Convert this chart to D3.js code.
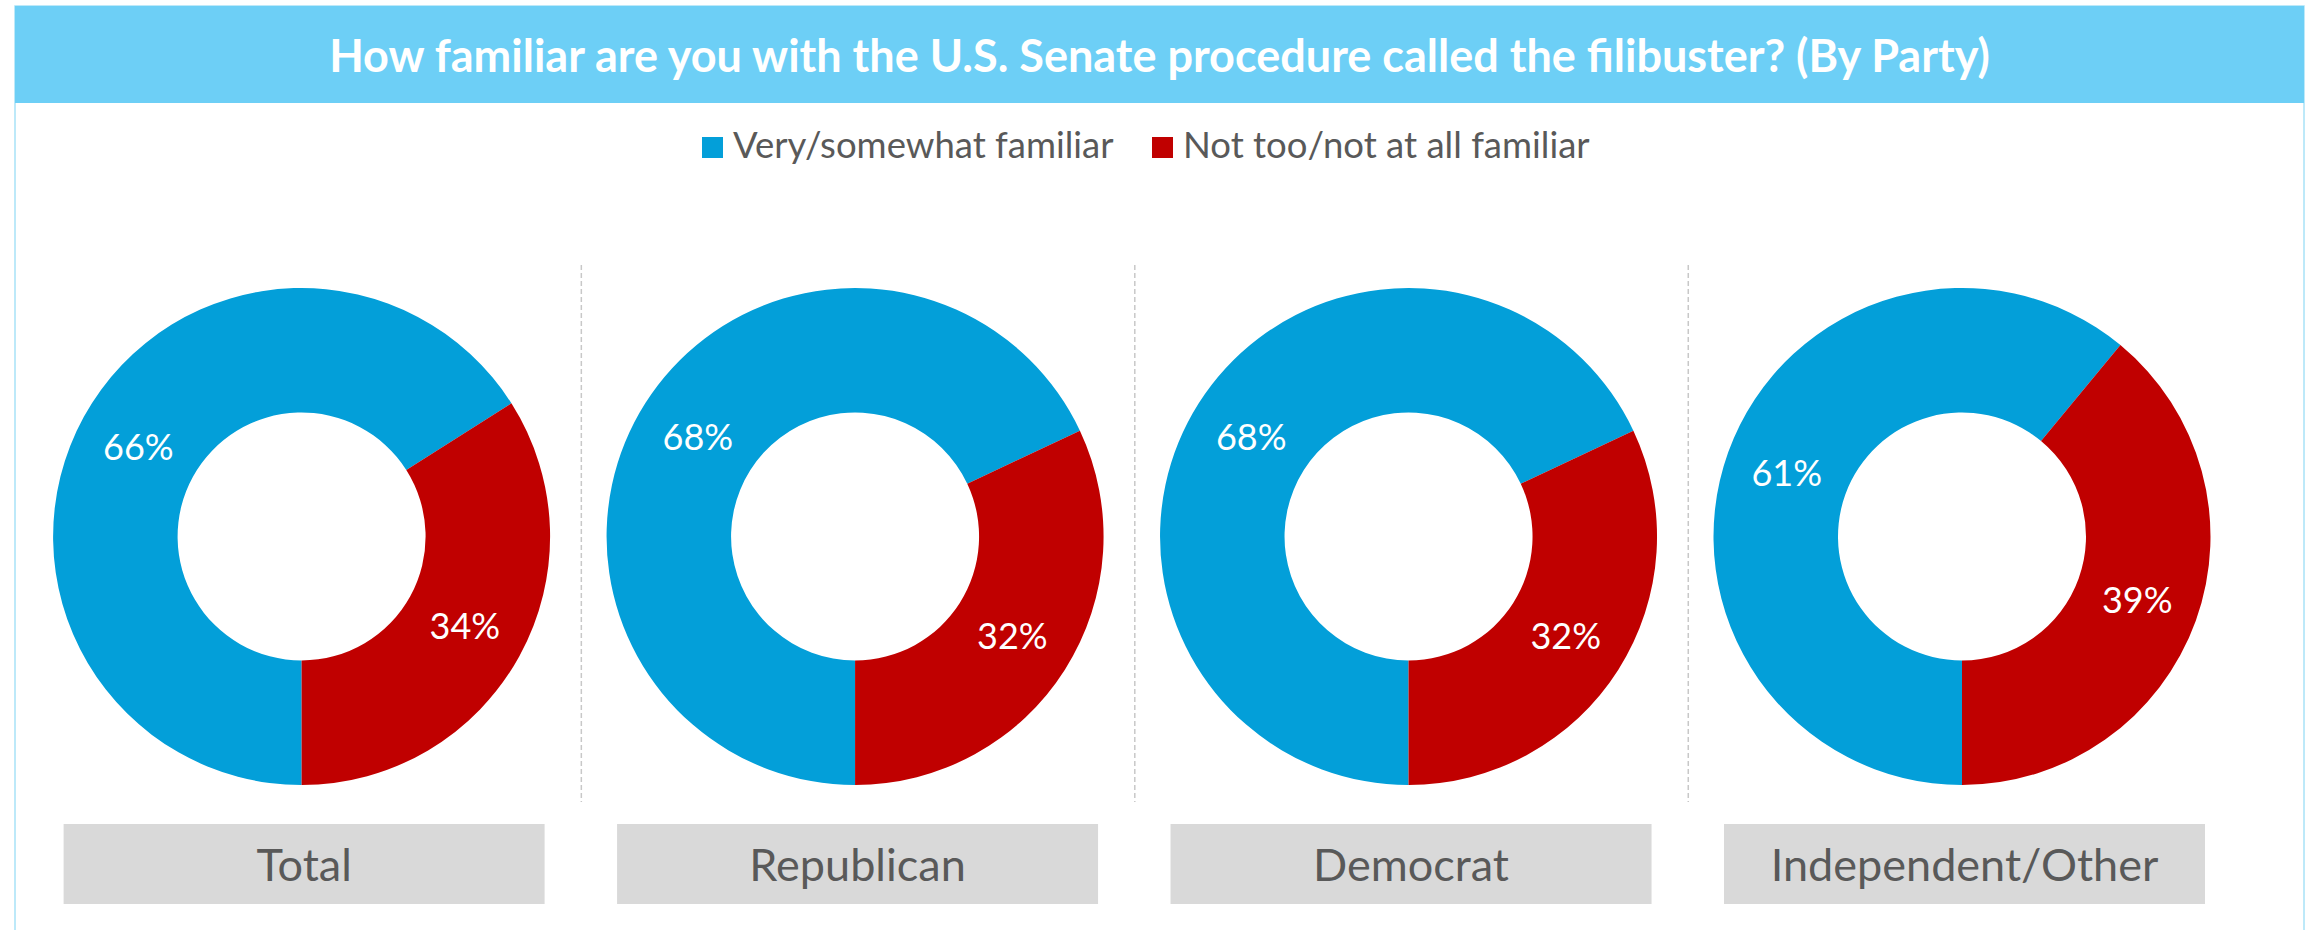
<!DOCTYPE html>
<html>
<head>
<meta charset="utf-8">
<script src="https://d3js.org/d3.v7.min.js"></script>
<style>
  html, body { margin: 0; padding: 0; background: #ffffff; }
  svg { display: block; }
  text { font-family: Lato, "Open Sans", sans-serif; }
</style>
</head>
<body>
<svg id="chart" width="2313" height="930"></svg>
<script>
// ---- data ----
const title = "How familiar are you with the U.S. Senate procedure called the filibuster? (By Party)";
const categories = ["Total", "Republican", "Democrat", "Independent/Other"];
const seriesNames = ["Very/somewhat familiar", "Not too/not at all familiar"];
const veryFamiliar = [66, 68, 68, 61];
const notFamiliar = [34, 32, 32, 39];
const seriesColors = ["#039FD9", "#C00000"];

// ---- layout ----
const W = 2313, H = 930;
const svg = d3.select("#chart");

const frame = { x0: 15, x1: 2304, top: 6, titleBottom: 103 };

// frame
svg.append("rect")
  .attr("x", frame.x0).attr("y", frame.top)
  .attr("width", frame.x1 - frame.x0).attr("height", H + 20)
  .attr("fill", "#ffffff").attr("stroke", "#A8E2F7").attr("stroke-width", 1.5);

// title bar
svg.append("rect")
  .attr("x", frame.x0).attr("y", frame.top)
  .attr("width", frame.x1 - frame.x0).attr("height", frame.titleBottom - frame.top)
  .attr("fill", "#6DCFF6");
svg.append("text")
  .attr("x", (frame.x0 + frame.x1) / 2).attr("y", 72)
  .attr("text-anchor", "middle")
  .attr("fill", "#ffffff").attr("font-weight", "bold").attr("font-size", 45)
  .text(title);

// legend
const legendItems = [
  { name: seriesNames[0], color: seriesColors[0], x: 702 },
  { name: seriesNames[1], color: seriesColors[1], x: 1152 }
];
const lg = svg.append("g");
legendItems.forEach(d => {
  lg.append("rect").attr("x", d.x).attr("y", 137).attr("width", 21).attr("height", 21).attr("fill", d.color);
  lg.append("text").attr("x", d.x + 31).attr("y", 158)
    .attr("fill", "#595959").attr("font-size", 36.5).text(d.name);
});

// columns
const x = d3.scalePoint().domain(categories).range([301.6, 1962]);
const cy = 536.5;
const rOuter = 248.5, rInner = 124;

const pie = d3.pie().sort(null).value(d => d.value)
  .startAngle(Math.PI).endAngle(3 * Math.PI);
const arc = d3.arc().innerRadius(rInner).outerRadius(rOuter);

// separators
const seps = categories.slice(0, -1).map((c, i) => (x(c) + x(categories[i + 1])) / 2 + 3);
svg.selectAll("line.sep").data(seps).join("line")
  .attr("class", "sep")
  .attr("x1", d => d).attr("x2", d => d)
  .attr("y1", 265).attr("y2", 802)
  .attr("stroke", "#C8C8C8").attr("stroke-width", 1.5)
  .attr("stroke-dasharray", "5,3");

categories.forEach((cat, i) => {
  const data = [
    { value: veryFamiliar[i], color: seriesColors[0] },
    { value: notFamiliar[i], color: seriesColors[1] }
  ];
  const g = svg.append("g").attr("transform", `translate(${x(cat)},${cy})`);
  const arcs = pie(data);
  g.selectAll("path").data(arcs).join("path")
    .attr("d", arc).attr("fill", d => d.data.color);
  g.selectAll("text").data(arcs).join("text")
    .attr("transform", d => { const c = arc.centroid(d); return `translate(${c[0]},${c[1]})`; })
    .attr("text-anchor", "middle").attr("dy", "0.36em")
    .attr("fill", "#ffffff").attr("font-size", 36)
    .text(d => d.data.value + "%");

  // category label box
  const bx = x(cat) + 2.5;
  svg.append("rect")
    .attr("x", bx - 240.5).attr("y", 824).attr("width", 481).attr("height", 80)
    .attr("fill", "#D9D9D9");
  svg.append("text")
    .attr("x", bx).attr("y", 881).attr("text-anchor", "middle")
    .attr("fill", "#595959").attr("font-size", 45).text(cat);
});
</script>
</body>
</html>
